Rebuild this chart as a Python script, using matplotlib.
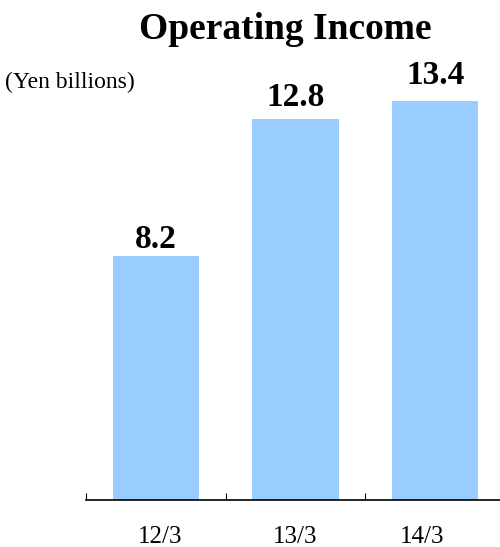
import matplotlib
matplotlib.use("Agg")
import matplotlib.pyplot as plt
import matplotlib.transforms as mtransforms
import numpy as np

# Operating income by fiscal year end (Yen billions)
periods = ["12/3", "13/3", "14/3"]
income = [8.2, 12.8, 13.4]

plt.rcParams['font.family'] = ['Liberation Serif', 'DejaVu Serif']

W, H = 500, 547
fig = plt.figure(figsize=(W / 100, H / 100), dpi=100)

# axis line sits at y=500px, categories spaced ~140px starting at x=86
ax = fig.add_axes([86 / W, 47 / H, 419 / W, 476.8 / H])
x = np.arange(len(periods))
ax.bar(x, income, width=0.62, color="#99CCFF")
ax.set_xlim(-0.5, len(periods) - 0.5)
ax.set_ylim(0, 16)

# value labels, nudged a bit differently per bar
pads = [8, 13, 17]
for xi, v, p in zip(x, income, pads):
    ax.annotate(f"{v:.1f}", (xi, v), xytext=(0, p * 0.72), textcoords="offset points",
                ha="center", va="baseline", fontsize=24, fontweight="bold")

for s in ["top", "right", "left"]:
    ax.spines[s].set_visible(False)
ax.spines["bottom"].set_linewidth(1.2)
ax.set_yticks([])

ax.set_xticks(x)
ax.set_xticklabels(periods, fontsize=18)
ax.tick_params(axis="x", which="major", length=0, pad=19)
ax.set_xticks(np.arange(len(periods)) - 0.5, minor=True)
ax.tick_params(axis="x", which="minor", direction="in", length=5, width=0.8)

# the period labels don't sit exactly under the bar centres
shifts = [4, 0, -13]
for lbl, dx in zip(ax.get_xticklabels(), shifts):
    lbl.set_transform(lbl.get_transform() +
                      mtransforms.ScaledTranslation(dx / 100, 0, fig.dpi_scale_trans))

fig.text(285 / W, 1 - 39 / H, "Operating Income", ha="center", va="baseline",
         fontsize=27, fontweight="bold")
fig.text(5 / W, 1 - 88 / H, "(Yen billions)", ha="left", va="baseline", fontsize=17)

fig.savefig("out.png", dpi=100)
